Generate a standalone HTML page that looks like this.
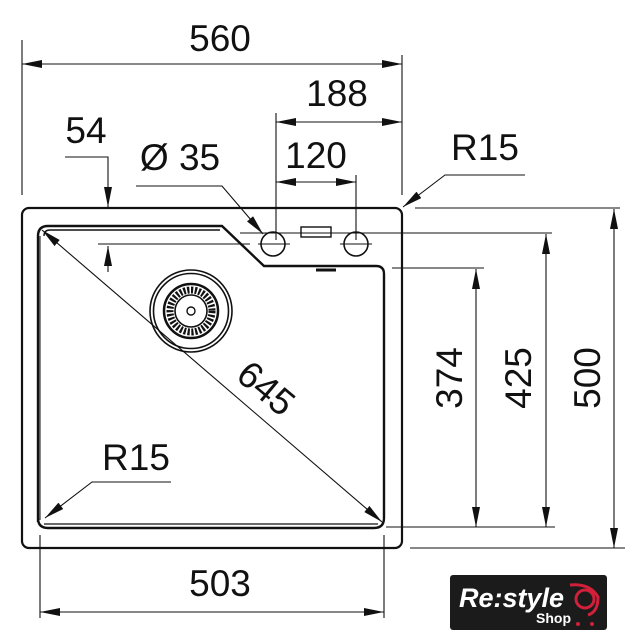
<!DOCTYPE html>
<html><head><meta charset="utf-8"><style>
html,body{margin:0;padding:0;background:#fff}
svg{display:block}
text{font-family:"Liberation Sans",Arial,sans-serif;fill:#111}
</style></head><body>
<svg width="641" height="640" viewBox="0 0 641 640" xmlns="http://www.w3.org/2000/svg">
<defs>
<marker id="a" viewBox="0 0 20 8" refX="20" refY="4" markerWidth="20" markerHeight="8" markerUnits="userSpaceOnUse" orient="auto-start-reverse"><path d="M0,0 L20,4 L0,8 Z" fill="#111"/></marker>
</defs>
<g stroke="#111" fill="none">
<!-- outer sink -->
<rect x="22" y="208" width="380" height="340" rx="7" stroke-width="2.2"/>
<!-- bowl -->
<path d="M38,522 L38,236 Q38,226 48,226 L222,226 L264,266 L376,266 Q384,266 384,274 L384,518 Q384,528 374,528 L48,528 Q38,528 38,518" stroke-width="2.4"/>
<path d="M44,236 Q44,230 50,230 L220,230" stroke-width="1.4"/>
<path d="M44,524 L378,524" stroke-width="1.2"/>
<path d="M40,236 L40,520" stroke-width="1"/>
<!-- drain -->
<circle cx="191" cy="311" r="41" stroke-width="1.6"/>
<circle cx="191" cy="311" r="37.5" stroke-width="1.6"/>
<circle cx="191" cy="311" r="27" stroke-width="2.5"/>
<circle cx="191" cy="311" r="21" stroke-width="7" stroke-dasharray="2.2 1.6"/>
<circle cx="191" cy="311" r="16" stroke-width="1.6"/>
<circle cx="191" cy="311" r="4" stroke-width="1.4"/>
<!-- holes -->
<circle cx="273" cy="244" r="12" stroke-width="1.6"/>
<circle cx="356" cy="244" r="12" stroke-width="1.6"/>
<rect x="301" y="227" width="30" height="10" stroke-width="1.4"/>
<path d="M316,270 h20" stroke-width="3"/>
</g>
<g stroke="#111" stroke-width="1.1" fill="none">
<!-- 560 -->
<path d="M22,40 V195 M402,55 V195"/>
<path d="M22,64 H402" marker-start="url(#a)" marker-end="url(#a)"/>
<!-- 188 -->
<path d="M276,113 V240 M356,175 V240"/>
<path d="M276,122 H402" marker-start="url(#a)" marker-end="url(#a)"/>
<path d="M276,182 H356" marker-start="url(#a)" marker-end="url(#a)"/>
<!-- hole center lines -->
<path d="M240,233 H552 M98,244 H250 M258,244 H290 M340,244 H372"/>
<!-- 54 -->
<path d="M65,157 H108 V207" marker-end="url(#a)"/>
<path d="M108,272 V246" marker-end="url(#a)"/>
<!-- Ø35 -->
<path d="M136,186 H222 L263,234" marker-end="url(#a)"/>
<!-- R15 top -->
<path d="M525,175 H445 L403,207" marker-end="url(#a)"/>
<!-- right extension lines -->
<path d="M415,208 H620 M392,268 H484 M386,527 H555 M410,548 H625"/>
<path d="M476,527 V269" marker-start="url(#a)" marker-end="url(#a)"/>
<path d="M546,527 V234" marker-start="url(#a)" marker-end="url(#a)"/>
<path d="M614,548 V209" marker-start="url(#a)" marker-end="url(#a)"/>
<!-- 645 diagonal -->
<path d="M42,230 L382,522" marker-start="url(#a)" marker-end="url(#a)"/>
<!-- R15 bottom -->
<path d="M171,482 H92 L45,518" marker-end="url(#a)"/>
<!-- 503 -->
<path d="M40,535 V618 M384,535 V618"/>
<path d="M40,612 H384" marker-start="url(#a)" marker-end="url(#a)"/>
</g>
<g font-size="37">
<text x="220" y="51" text-anchor="middle">560</text>
<text x="337" y="106" text-anchor="middle">188</text>
<text x="316" y="168" text-anchor="middle">120</text>
<text x="86" y="143" text-anchor="middle">54</text>
<text x="180" y="170" text-anchor="middle">Ø 35</text>
<text x="485" y="160" text-anchor="middle">R15</text>
<text x="136" y="470" text-anchor="middle">R15</text>
<text x="220" y="596" text-anchor="middle">503</text>
<text transform="translate(462,378) rotate(-90)" text-anchor="middle">374</text>
<text transform="translate(531,378) rotate(-90)" text-anchor="middle">425</text>
<text transform="translate(600,378) rotate(-90)" text-anchor="middle">500</text>
<text transform="translate(258,398) rotate(40)" text-anchor="middle">645</text>
</g>
<!-- logo -->
<rect x="450" y="575" width="157" height="55" rx="3" fill="#1b1b1b"/>
<text x="459" y="607" font-size="27" font-style="italic" font-weight="bold" style="fill:#fff">Re:style</text>
<text x="536" y="623" font-size="14" font-weight="bold" style="fill:#fff">Shop</text>
<g fill="none" stroke="#d0203a" stroke-width="3">
<circle cx="585" cy="599" r="9"/>
<path d="M570,585 Q590,583 598,597 Q598,612 588,615"/>
</g>
<circle cx="578" cy="624" r="2" fill="#d0203a"/><circle cx="592" cy="624" r="2" fill="#d0203a"/>
</svg>
</body></html>
